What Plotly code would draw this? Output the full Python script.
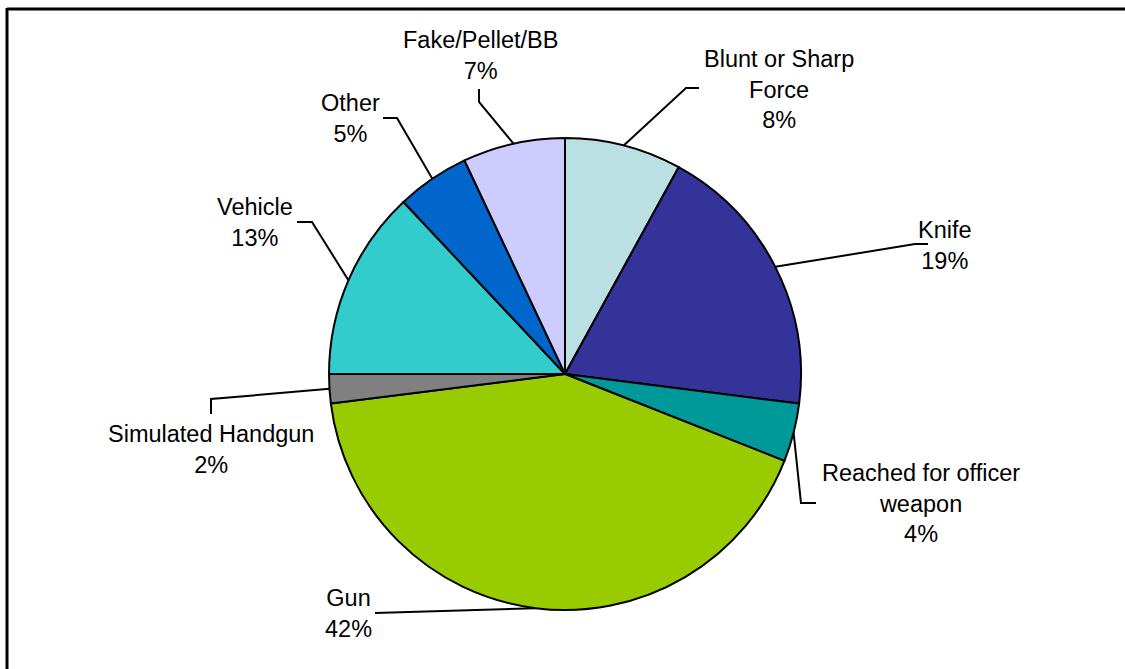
import math
import plotly.graph_objects as go

# Weapon categories, in clockwise order starting at 12 o'clock
categories = [
    "Blunt or Sharp Force",
    "Knife",
    "Reached for officer weapon",
    "Gun",
    "Simulated Handgun",
    "Vehicle",
    "Other",
    "Fake/Pellet/BB",
]
shares = [8, 19, 4, 42, 2, 13, 5, 7]
label_text = [
    "Blunt or Sharp<br>Force",
    "Knife",
    "Reached for officer<br>weapon",
    "Gun",
    "Simulated Handgun",
    "Vehicle",
    "Other",
    "Fake/Pellet/BB",
]
colors = ["#BBE0E3", "#333399", "#009999", "#99CC00",
          "#808080", "#33CCCC", "#0066CC", "#CCCCFF"]

W, H = 1125, 669
CX, CY, R = 565, 374, 236  # pie centre and radius in pixels

# Label block centres and leader-line bends / ends (pixels)
label_pos = [(779, 89), (945, 245), (921, 503), (348, 613),
             (211, 449), (255, 222), (350, 118), (480, 55)]
leader_bend = [(686, 88), (915, 244), (801, 503), (390, 613),
               (211, 399), (312, 222), (397, 118), (479, 102)]
leader_end = [(699, 88), (928, 244), (816, 503), (375, 613),
              (211, 414), (297, 222), (383, 118), (479, 89)]

FONT = dict(family="Liberation Sans, Arial, sans-serif", size=23.5, color="black")

fig = go.Figure()

fig.add_trace(go.Pie(
    labels=categories,
    values=shares,
    sort=False,
    direction="clockwise",
    rotation=0,
    marker=dict(colors=colors, line=dict(color="black", width=2)),
    textinfo="none",
    hoverinfo="label+percent",
    showlegend=False,
    domain=dict(x=[(CX - R) / W, (CX + R) / W],
                y=[1 - (CY + R) / H, 1 - (CY - R) / H]),
))

# Leader lines: from the rim at each slice's mid-angle to its label
total = sum(shares)
cum = 0
for i, v in enumerate(shares):
    mid = (cum + v / 2) / total * 2 * math.pi
    cum += v
    rx = CX + R * math.sin(mid)
    ry = CY - R * math.cos(mid)
    bx, by = leader_bend[i]
    ex, ey = leader_end[i]
    fig.add_trace(go.Scatter(
        x=[rx, bx, ex], y=[ry, by, ey], mode="lines",
        line=dict(color="black", width=2),
        hoverinfo="skip", showlegend=False,
    ))
    lx, ly = label_pos[i]
    fig.add_annotation(
        x=lx, y=ly, xref="x", yref="y",
        text=f"{label_text[i]}<br>{v}%",
        showarrow=False, align="center",
        xanchor="center", yanchor="middle", font=FONT,
    )

# Frame along the top and left edges
fig.add_shape(type="line", xref="x", yref="y", x0=7, y0=9, x1=W, y1=9,
              line=dict(color="black", width=3))
fig.add_shape(type="line", xref="x", yref="y", x0=7, y0=8, x1=7, y1=H,
              line=dict(color="black", width=3))

fig.update_layout(
    width=W, height=H,
    margin=dict(l=0, r=0, t=0, b=0),
    paper_bgcolor="white", plot_bgcolor="rgba(0,0,0,0)",
    xaxis=dict(range=[0, W], visible=False, fixedrange=True, domain=[0, 1]),
    yaxis=dict(range=[H, 0], visible=False, fixedrange=True, domain=[0, 1]),
    showlegend=False,
)

fig.write_html("out.html")
